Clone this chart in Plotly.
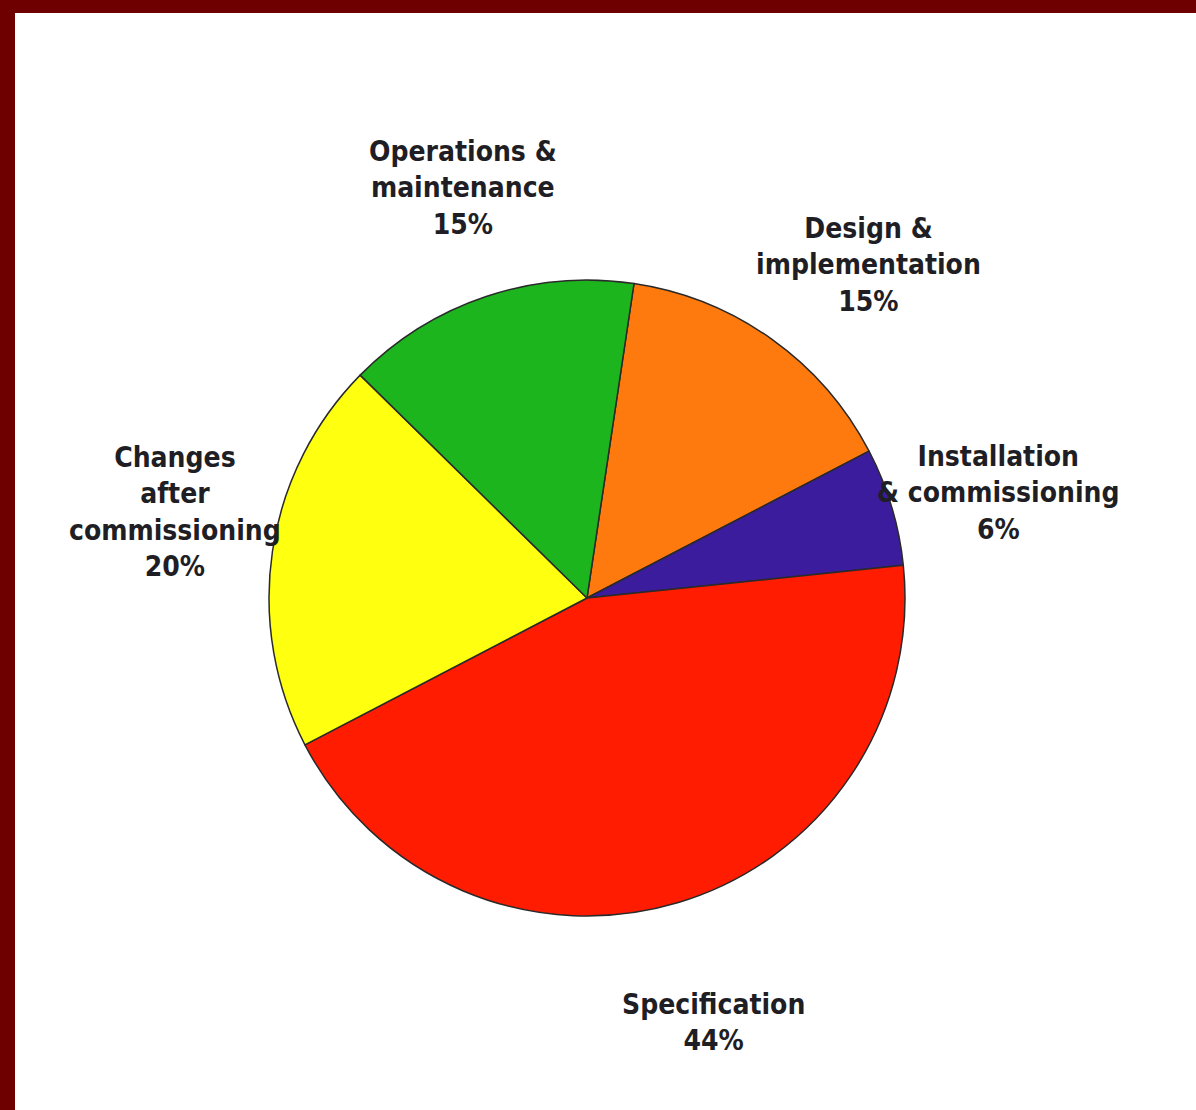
import plotly.graph_objects as go

# Data
categories = ["Design &<br>implementation", "Installation<br>& commissioning", "Specification",
              "Changes<br>after<br>commissioning", "Operations &<br>maintenance"]
values = [15, 6, 44, 20, 15]
colors = ["#FF7A0E", "#3A1C9C", "#FF1C00", "#FFFF10", "#1DB51D"]

W, H = 1196, 1110
ML, MT = 15, 13
PW, PH = W - ML, H - MT

def px(x):
    return (x - ML) / PW

def py(y):
    return 1 - (y - MT) / PH

# pie geometry (pixels)
cx, cy, r = 587, 598, 318

fig = go.Figure(go.Pie(
    labels=[c.replace("<br>", " ") for c in categories],
    values=values,
    sort=False,
    direction="clockwise",
    rotation=8.5,
    marker=dict(colors=colors, line=dict(color="#2a2a2a", width=1.5)),
    textinfo="none",
    hoverinfo="skip",
    showlegend=False,
    domain=dict(x=[px(cx - r), px(cx + r)], y=[py(cy + r), py(cy - r)]),
))

label_pos = [(868, 265), (998, 493), (713, 1022), (175, 512), (463, 188)]
for cat, v, (lx, ly) in zip(categories, values, label_pos):
    fig.add_annotation(
        x=px(lx), y=py(ly), xref="paper", yref="paper",
        text=f"<b>{cat}<br>{v}%</b>", showarrow=False,
        xanchor="center", yanchor="middle", align="center",
        font=dict(family="DejaVu Sans Condensed, Liberation Sans Narrow, DejaVu Sans, sans-serif",
                  size=28, color="#1e1e24"),
    )

fig.add_shape(type="rect", xref="paper", yref="paper", x0=0, x1=1, y0=0, y1=1,
              fillcolor="white", line=dict(width=0), layer="below")

fig.update_layout(
    width=W, height=H,
    margin=dict(l=ML, r=0, t=MT, b=0),
    paper_bgcolor="#6E0000",
    plot_bgcolor="white",
)

fig.write_html("out.html")
